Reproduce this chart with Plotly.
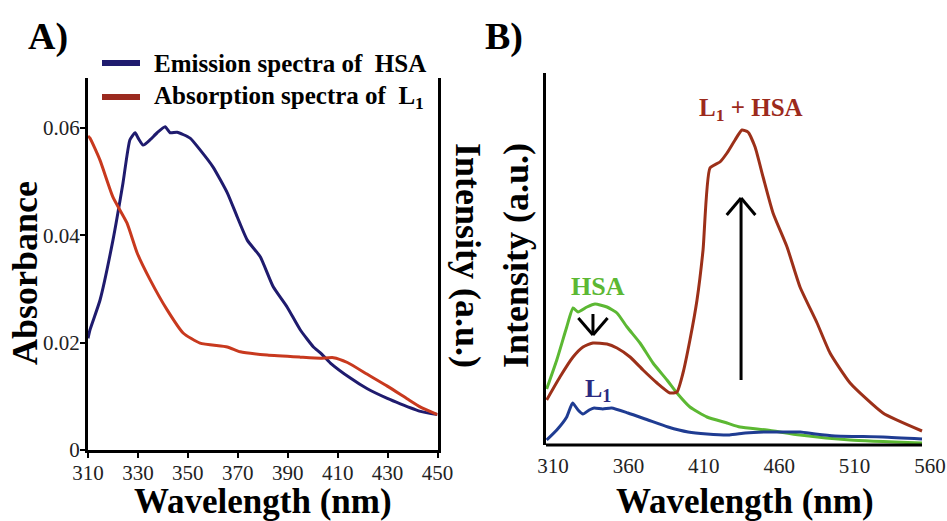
import plotly.graph_objects as go

# ---------------- Panel A data ----------------
a_emis_wl = [310, 310.8, 314.8, 320.0, 324.0, 326.8, 328.9, 330.1, 332.1, 334.9, 337.7, 340.9, 342.9,
             345.7, 350.9, 354.9, 360.1, 365.8, 369.8, 373.8, 379.0, 384.2, 389.8, 395.0, 400.3,
             403.1, 407.1, 415.1, 421.9, 429.9, 435.1, 443.2, 450]
a_emis_val = [0.0208, 0.0224, 0.0279, 0.0391, 0.0497, 0.0578, 0.0591, 0.0581, 0.0568, 0.0578, 0.0591,
              0.0602, 0.0591, 0.0592, 0.0581, 0.0559, 0.0527, 0.0479, 0.0434, 0.0391, 0.0360, 0.0304,
              0.0266, 0.0224, 0.0192, 0.0181, 0.0162, 0.0134, 0.0114, 0.0096, 0.0086, 0.0072, 0.0066]

a_abs_wl = [310, 310.8, 314.8, 320.0, 325.6, 329.7, 334.9, 341.7, 348.1, 354.9, 365.8, 371.0, 381.8,
            395.0, 403.1, 408.3, 413.9, 421.9, 429.9, 438.0, 443.2, 450]
a_abs_val = [0.0585, 0.0581, 0.0540, 0.0471, 0.0423, 0.0367, 0.0317, 0.0261, 0.0218, 0.0199, 0.0192,
             0.0183, 0.0177, 0.0173, 0.0171, 0.0172, 0.0163, 0.0141, 0.0119, 0.0095, 0.0080, 0.0066]

a_xticks = [310, 330, 350, 370, 390, 410, 430, 450]
a_yticks = [0, 0.02, 0.04, 0.06]
a_yticktext = ["0", "0.02", "0.04", "0.06"]

# ---------------- Panel B data (arbitrary units) ----------------
b_mix_wl = [305.8, 314.6, 323.3, 329.9, 336.5, 345.8, 352.4, 361.1, 369.7, 379.0, 387.6, 392.2, 396.2,
            400.8, 405.5, 409.5, 414.1, 420.7, 425.4, 430.7, 435.3, 439.3, 444.0, 449.3, 455.9,
            465.2, 473.8, 485.1, 493.7, 507.0, 528.8, 554.7]
b_mix_val = [45, 68, 88, 98, 102, 101, 97, 88, 75, 62, 52, 53, 72, 105, 145, 195, 277, 283, 292, 305,
             315, 313, 298, 268, 232, 198, 158, 122, 92, 62, 32, 14]

b_hsa_wl = [305.8, 312.5, 319.1, 323.3, 326.6, 332.5, 337.9, 345.8, 352.4, 359.1, 367.7, 376.3, 385.6,
            392.2, 400.8, 412.1, 425.4, 434.0, 451.9, 473.8, 507.0, 554.7]
b_hsa_val = [56, 85, 118, 137, 133, 138, 141, 138, 132, 118, 102, 82, 65, 52, 38, 28, 22, 18, 15, 10, 5, 2]

b_l1_wl = [305.8, 312.5, 319.1, 323.0, 326.6, 329.9, 334.0, 337.3, 343.0, 348.8, 359.7, 373.0, 386.3,
           399.6, 412.1, 427.0, 437.5, 451.0, 462.0, 474.0, 484.0, 497.0, 528.8, 554.7]
b_l1_val = [5, 15, 28, 42, 35, 31, 35, 37, 36, 37, 32, 25, 18, 13, 11, 10, 12, 13, 13, 13, 11, 9, 8, 6]

b_xticks = [310, 360, 410, 460, 510, 560]

W, H = 947, 521
FONT = "Liberation Serif"


def px(x, y):
    return x / W, 1 - y / H


SM = 0.5
fig = go.Figure()
fig.add_trace(go.Scatter(x=a_emis_wl, y=a_emis_val, mode="lines",
                         line=dict(color="#1f1b6e", width=3, shape="spline", smoothing=SM),
                         xaxis="x", yaxis="y", showlegend=False))
fig.add_trace(go.Scatter(x=a_abs_wl, y=a_abs_val, mode="lines",
                         line=dict(color="#c8391e", width=3, shape="spline", smoothing=SM),
                         xaxis="x", yaxis="y", showlegend=False))
fig.add_trace(go.Scatter(x=b_hsa_wl, y=b_hsa_val, mode="lines",
                         line=dict(color="#5cb833", width=3, shape="spline", smoothing=SM),
                         xaxis="x2", yaxis="y2", showlegend=False))
fig.add_trace(go.Scatter(x=b_mix_wl, y=b_mix_val, mode="lines",
                         line=dict(color="#9c3019", width=3, shape="spline", smoothing=SM),
                         xaxis="x2", yaxis="y2", showlegend=False))
fig.add_trace(go.Scatter(x=b_l1_wl, y=b_l1_val, mode="lines",
                         line=dict(color="#1f3c92", width=3, shape="spline", smoothing=SM),
                         xaxis="x2", yaxis="y2", showlegend=False))

tickfont = dict(family=FONT, size=21, color="#222")

fig.update_layout(
    width=W, height=H, margin=dict(l=0, r=0, t=0, b=0, autoexpand=False),
    paper_bgcolor="white", plot_bgcolor="white",
    xaxis=dict(domain=[88 / W, 437.5 / W], range=[310, 450], tickvals=a_xticks,
               showline=True, linecolor="black", linewidth=3, ticks="outside", ticklen=5,
               tickwidth=2, tickcolor="black", showgrid=False, zeroline=False, tickfont=tickfont,
               ticklabelstandoff=-3, anchor="y"),
    yaxis=dict(domain=[1 - 450 / H, 1 - 78 / H], range=[0, 0.0693], tickvals=a_yticks,
               ticktext=a_yticktext, showline=True, mirror=True, linecolor="black", linewidth=3,
               ticks="outside", ticklen=5, tickwidth=2, tickcolor="black", showgrid=False,
               zeroline=False, tickfont=tickfont, ticklabelstandoff=-4, anchor="x"),
    xaxis2=dict(domain=[546 / W, 931 / W], range=[305.36, 560.66], tickvals=b_xticks,
                showline=False, ticks="", showgrid=False, zeroline=False, tickfont=tickfont,
                ticklabelstandoff=6, anchor="y2"),
    yaxis2=dict(domain=[1 - 445 / H, 1 - 73 / H], range=[0, 372], showline=True,
                linecolor="black", linewidth=3, showticklabels=False, ticks="", showgrid=False,
                zeroline=False, anchor="x2"),
)

shapes = []
# bottom axis line of panel B (ends at last data wavelength)
shapes.append(dict(type="line", xref="x2", yref="y2 domain", x0=305.36, x1=b_mix_wl[-1], y0=0, y1=0,
                   line=dict(color="black", width=3)))
# arrows in panel B
arrow = dict(color="black", width=3)
shapes += [
    dict(type="line", xref="x2", yref="y2", x0=336.5, x1=336.5, y0=131, y1=110, line=arrow),
    dict(type="line", xref="x2", yref="y2", x0=326.8, x1=336.5, y0=127, y1=110, line=arrow),
    dict(type="line", xref="x2", yref="y2", x0=346.2, x1=336.5, y0=127, y1=110, line=arrow),
    dict(type="line", xref="x2", yref="y2", x0=434.7, x1=434.7, y0=65, y1=247, line=arrow),
    dict(type="line", xref="x2", yref="y2", x0=425.2, x1=434.7, y0=230, y1=247, line=arrow),
    dict(type="line", xref="x2", yref="y2", x0=444.2, x1=434.7, y0=230, y1=247, line=arrow),
]
# legend markers (panel A)
for yy, col in [(63, "#1f1b6e"), (97, "#9b2a1f")]:
    x0, y0 = px(102, yy)
    x1, _ = px(140, yy)
    shapes.append(dict(type="line", xref="paper", yref="paper", x0=x0, x1=x1, y0=y0, y1=y0,
                       line=dict(color=col, width=6)))
fig.update_layout(shapes=shapes)

ann = []


def text(x, y, s, size, color="black", bold=True, angle=0, xanchor="center"):
    X, Y = px(x, y)
    ann.append(dict(x=X, y=Y, xref="paper", yref="paper", text=(f"<b>{s}</b>" if bold else s),
                    showarrow=False, textangle=angle, xanchor=xanchor, yanchor="middle",
                    font=dict(family=FONT, size=size, color=color)))


text(48, 36, "A)", 38)
text(504, 36, "B)", 38)
text(152, 63, "Emission spectra of&nbsp; HSA", 25, xanchor="left")
text(152, 97, "Absorption spectra of&nbsp; L<sub>1</sub>", 25, xanchor="left")
text(25, 273, "Absorbance", 36, angle=-90)
text(263, 501, "Wavelength (nm)", 35)
text(745, 501, "Wavelength (nm)", 35)
text(468, 255, "Intensity (a.u.)", 36, angle=90)
text(516, 256, "Intensity (a.u.)", 36, angle=-90)
text(598, 286, "HSA", 26, color="#5cb833")
text(598, 390, "L<sub>1</sub>", 26, color="#2b2a80")
text(751, 109, "L<sub>1</sub> + HSA", 25, color="#9c2a1c")
fig.update_layout(annotations=ann)

fig.write_html("out.html")
